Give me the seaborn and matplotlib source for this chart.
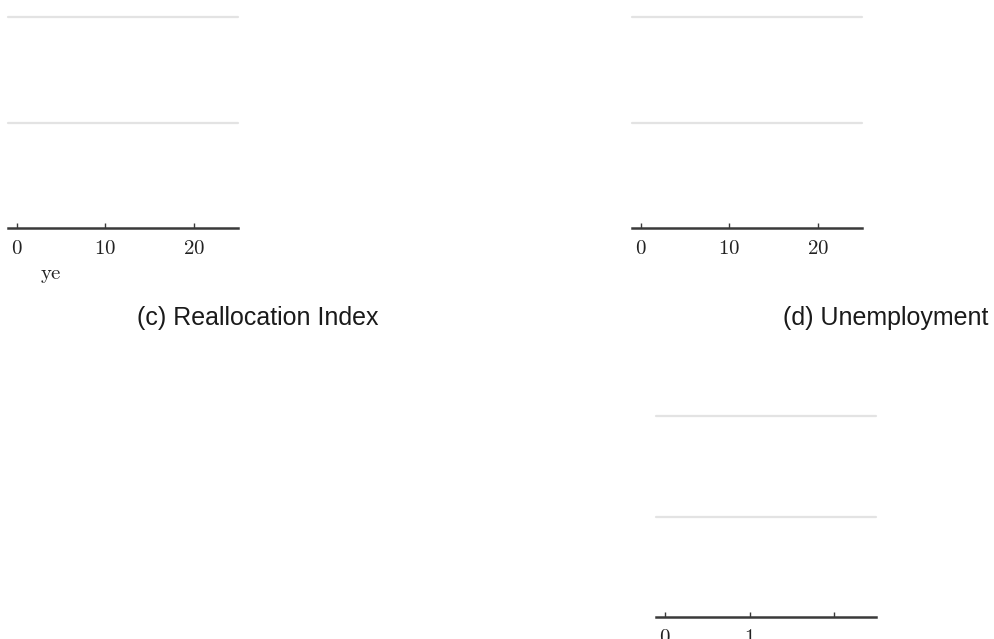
import matplotlib
matplotlib.use("Agg")
import matplotlib.pyplot as plt
import seaborn as sns

# Panel content
panel_titles = ["(c) Reallocation Index", "(d) Unemployment"]
year_ticks = [0, 10, 20]
year_ticklabels = ["0", "10", "20"]
small_ticks = [0, 1, 2]
small_ticklabels = ["0", "1", ""]
grid_levels = [1, 2]
axis_label_fragment = "ye"

sns.set_theme(style="white")
plt.rcParams["mathtext.fontset"] = "cm"
plt.rcParams["font.family"] = ["Liberation Sans", "DejaVu Sans"]

W, H = 995, 639
fig = plt.figure(figsize=(W / 100, H / 100), dpi=100)
fig.patch.set_facecolor("white")

AXIS_COLOR = "#3a3a3a"
GRID_COLOR = "#e3e3e3"


def px_axes(x0, x1, y_top, y_bot):
    return fig.add_axes([x0 / W, 1 - y_bot / H, (x1 - x0) / W, (y_bot - y_top) / H])


def style_panel(ax, xlim, ticks, labels):
    ax.set_xlim(*xlim)
    ax.set_ylim(0, 2)
    for lvl in grid_levels:
        ax.axhline(lvl, color=GRID_COLOR, lw=1.6, zorder=0, clip_on=False)
    sns.despine(ax=ax, left=True, top=True, right=True, bottom=False)
    ax.spines["bottom"].set_color(AXIS_COLOR)
    ax.spines["bottom"].set_linewidth(1.8)
    ax.set_yticks([])
    ax.set_xticks(ticks)
    ax.set_xticklabels([f"${t}$" if t else "" for t in labels], fontsize=15, color="#222222")
    ax.tick_params(axis="x", direction="in", length=3.5, width=1.0, color=AXIS_COLOR, pad=8,
                   bottom=True)
    ax.patch.set_alpha(0)


ax1 = px_axes(8, 238, 17, 228)
style_panel(ax1, (-1.0, 25.0), year_ticks, year_ticklabels)

ax2 = px_axes(632, 862, 17, 228)
style_panel(ax2, (-1.0, 25.0), year_ticks, year_ticklabels)

ax3 = px_axes(656, 876, 416, 617)
style_panel(ax3, (-0.11, 2.5), small_ticks, small_ticklabels)

fig.text(51 / W, 1 - 279 / H, r"$\mathrm{" + axis_label_fragment + "}$", fontsize=15,
         ha="center", va="baseline", color="#222222")

fig.text(258 / W, 1 - 318 / H, panel_titles[0], fontsize=18, ha="center", va="center",
         color="#1a1a1a")
fig.text(886 / W, 1 - 318 / H, panel_titles[1], fontsize=18, ha="center", va="center",
         color="#1a1a1a")

fig.savefig("out.png", dpi=100, facecolor="white")
